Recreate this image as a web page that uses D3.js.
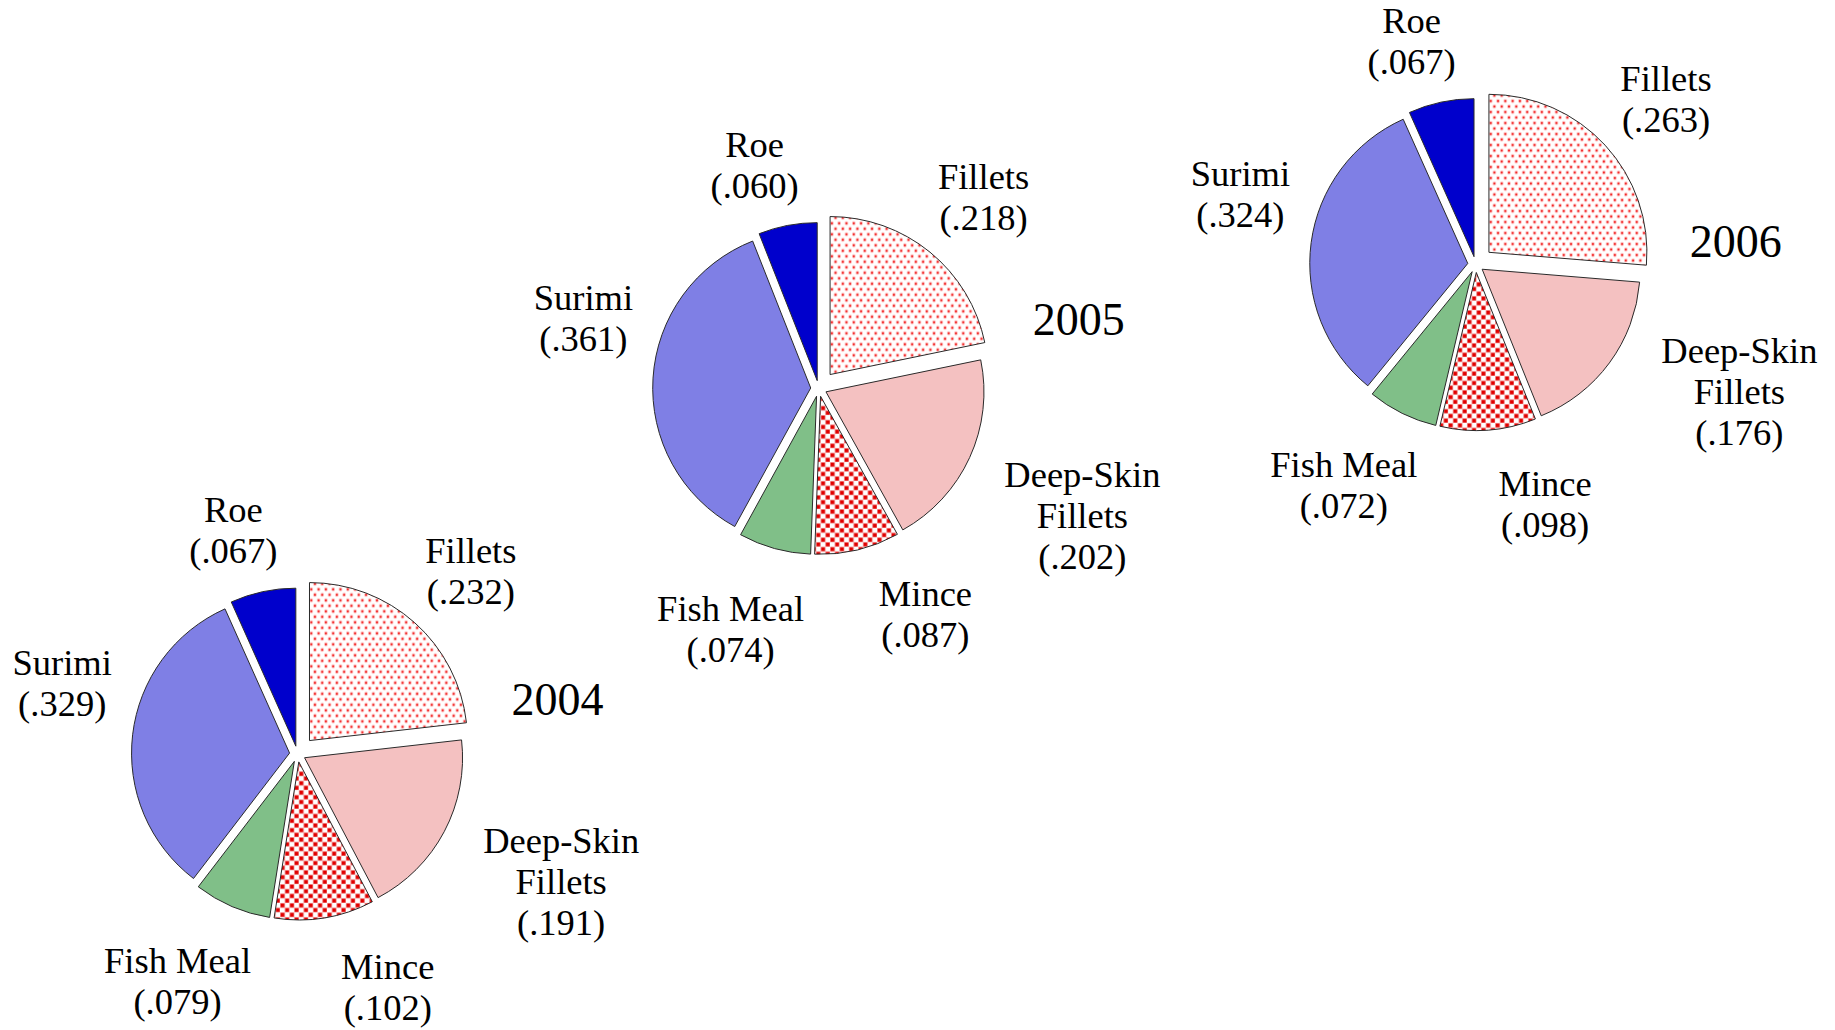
<!DOCTYPE html>
<html>
<head>
<meta charset="utf-8">
<script src="https://cdn.jsdelivr.net/npm/d3@7"></script>
<style>
  html, body { margin: 0; padding: 0; background: #ffffff; }
  svg { display: block; }
  text { font-family: "Liberation Serif", "Times New Roman", serif; fill: #000; }
</style>
</head>
<body>
<svg id="chart" width="1835" height="1030"></svg>
<script>
// ---------------- data ----------------
const categories = ["Fillets", "Deep-Skin Fillets", "Mince", "Fish Meal", "Surimi", "Roe"];
const years = ["2004", "2005", "2006"];
const shares2004 = [0.232, 0.191, 0.102, 0.079, 0.329, 0.067];
const shares2005 = [0.218, 0.202, 0.087, 0.074, 0.361, 0.060];
const shares2006 = [0.263, 0.176, 0.098, 0.072, 0.324, 0.067];
const sharesByYear = [shares2004, shares2005, shares2006];

// ---------------- layout / style ----------------
const pieCenters = [[297.5, 754], [818.7, 388.5], [1475.7, 264.5]];
const radius = 158;
const explode = { "Fillets": 18 };
const baseExplode = 8;
const fills = {
  "Fillets": "url(#dots)",
  "Deep-Skin Fillets": "#f4c1c1",
  "Mince": "url(#squares)",
  "Fish Meal": "#80bf88",
  "Surimi": "#7f7fe5",
  "Roe": "#0000cc"
};
// label placement: polar = [angle shift deg, radius]; offset = [dx, dy] from pie centre
const labelPlace = {
  "Fillets": { polar: [1.7, 252] },
  "Deep-Skin Fillets": { offset: [263.7, 127.5] },
  "Mince": { polar: [-11.8, 250] },
  "Fish Meal": { polar: [4.6, 257] },
  "Surimi": { offset: [-235.3, -70.5] },
  "Roe": { offset: [-64.1, -223.1] }
};
const fontSize = 36.5, lineH = 41, yearFont = 46;

const svg = d3.select("#chart");
const defs = svg.append("defs");

// dotted pattern (Fillets)
const pd = defs.append("pattern").attr("id", "dots").attr("patternUnits", "userSpaceOnUse")
  .attr("width", 7.3).attr("height", 11);
pd.append("rect").attr("width", 7.3).attr("height", 11).attr("fill", "#fff");
[[1.8, 2.75], [5.45, 8.25]].forEach(([x, y]) => {
  pd.append("circle").attr("cx", x).attr("cy", y).attr("r", 1.9).attr("fill", "#ff8080").attr("opacity", 0.55);
  pd.append("circle").attr("cx", x).attr("cy", y).attr("r", 1.0).attr("fill", "#ee1111");
});

// square pattern (Mince)
const ps = defs.append("pattern").attr("id", "squares").attr("patternUnits", "userSpaceOnUse")
  .attr("width", 9.4).attr("height", 9.4);
ps.append("rect").attr("width", 9.4).attr("height", 9.4).attr("fill", "#fff");
[[0.6, 0.6], [5.3, 5.3]].forEach(([x, y]) => {
  ps.append("rect").attr("x", x - 0.7).attr("y", y - 0.7).attr("width", 5.2).attr("height", 5.2).attr("fill", "#f08080").attr("opacity", 0.6);
  ps.append("rect").attr("x", x).attr("y", y).attr("width", 3.8).attr("height", 3.8).attr("fill", "#e00000");
});

const pie = d3.pie().sort(null).value(d => d.value);
const arc = d3.arc().innerRadius(0).outerRadius(radius);
const fmt = v => "(" + d3.format(".3f")(v).replace(/^0/, "") + ")";
const shift = (d) => {
  const m = (d.startAngle + d.endAngle) / 2;
  const e = explode[d.data.cat] || baseExplode;
  return [Math.sin(m) * e, -Math.cos(m) * e];
};

years.forEach((year, yi) => {
  const [cx, cy] = pieCenters[yi];
  const data = categories.map((c, i) => ({ cat: c, value: sharesByYear[yi][i] }));
  const arcs = pie(data);
  const g = svg.append("g").attr("transform", `translate(${cx},${cy})`);

  g.selectAll("path.slice").data(arcs).enter().append("path")
    .attr("class", "slice")
    .attr("d", arc)
    .attr("fill", d => fills[d.data.cat])
    .attr("stroke", "#2a2a2a")
    .attr("stroke-width", 1)
    .attr("stroke-linejoin", "round")
    .attr("transform", d => { const s = shift(d); return `translate(${s[0]},${s[1]})`; });

  // labels
  arcs.forEach(d => {
    const p = labelPlace[d.data.cat];
    let lx, ly;
    if (p.polar) {
      const m = (d.startAngle + d.endAngle) / 2 + p.polar[0] * Math.PI / 180;
      lx = Math.sin(m) * p.polar[1]; ly = -Math.cos(m) * p.polar[1];
    } else {
      [lx, ly] = p.offset;
    }
    const lines = d.data.cat === "Deep-Skin Fillets" ? ["Deep-Skin", "Fillets"] : [d.data.cat];
    lines.push(fmt(d.data.value));
    const b0 = ly - (lines.length - 1) * lineH / 2 + 12;
    const t = g.append("text").attr("text-anchor", "middle").attr("font-size", fontSize);
    lines.forEach((ln, k) => {
      t.append("tspan").attr("x", lx).attr("y", b0 + k * lineH).text(ln);
    });
  });

  // year title: beside the outer corner of the exploded Fillets slice
  const f = arcs[0];
  const fs = shift(f);
  const cornerY = -Math.cos(f.endAngle) * radius + fs[1];
  g.append("text").attr("x", 260).attr("y", cornerY - 8)
    .attr("text-anchor", "middle").attr("font-size", yearFont).text(year);
});
</script>
</body>
</html>
